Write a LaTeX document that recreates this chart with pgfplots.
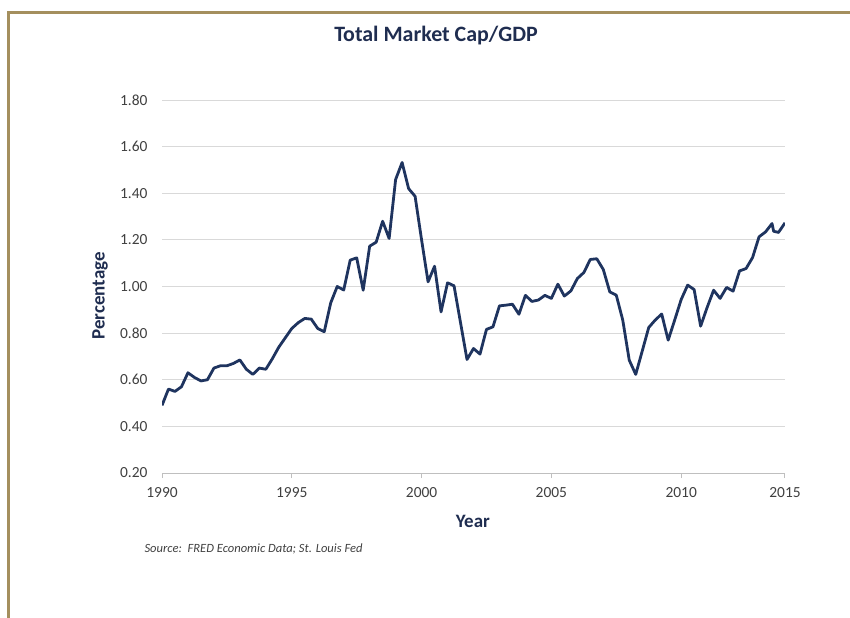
\documentclass[border=0pt]{standalone}
\usepackage{pgfplots}
\pgfplotsset{compat=1.18}
\usepackage{fontspec}
\setmainfont{Carlito}
\definecolor{navy}{RGB}{31,45,80}
\definecolor{linec}{RGB}{31,52,95}
\definecolor{gold}{RGB}{164,143,94}
\definecolor{gridc}{RGB}{217,217,217}
\definecolor{axc}{RGB}{191,191,191}
\definecolor{tickc}{RGB}{64,64,64}
\begin{document}
\begin{tikzpicture}
\path[use as bounding box] (0,0) rectangle (850bp,-618bp);
\draw[gold, line width=3bp] (8bp,-618bp) -- (8bp,-12bp) -- (851bp,-12bp);
\node[font=\bfseries\fontsize{22}{26}\selectfont, text=navy] at (436bp,-36bp) {Total Market Cap/GDP};
\node[font=\itshape\fontsize{12.6}{15}\selectfont, text=tickc, anchor=west] at (141bp,-549bp) {Source:\ \ FRED Economic Data; St. Louis Fed};
\begin{axis}[
  at={(162bp,-473bp)}, anchor=south west,
  scale only axis, width=623bp, height=373bp,
  xmin=0, xmax=96, ymin=0.2, ymax=1.8,
  xtick={0,20,40,60,80,96},
  xticklabels={1990,1995,2000,2005,2010,2015},
  ytick={0.2,0.4,0.6,0.8,1.0,1.2,1.4,1.6,1.8},
  yticklabel style={/pgf/number format/fixed, /pgf/number format/fixed zerofill, /pgf/number format/precision=2, xshift=-11bp},
  /pgf/number format/assume math mode=true,
  ymajorgrids, grid style={gridc, line width=1bp},
  axis x line*=bottom, axis y line*=left,
  y axis line style={draw=none},
  x axis line style={axc, line width=1bp},
  xtick align=outside, major tick length=5bp,
  ytick style={draw=none}, xtick style={axc, line width=1bp},
  tick label style={font=\fontsize{15.5}{18}\selectfont, text=tickc},
  xticklabel style={yshift=-6bp},
  ylabel={Percentage}, xlabel={Year},
  label style={font=\bfseries\fontsize{19}{22}\selectfont, text=navy},
  ylabel style={at={(axis description cs:-0.0995,0.475)}, anchor=center, rotate=0},
  xlabel style={at={(axis description cs:0.499,-0.131)}, anchor=center},
]
\addplot[linec, line width=2.8bp, line join=round, mark=none] coordinates {
(0,0.49) (1,0.56) (2,0.55) (3,0.57) (4,0.63) (5,0.61) (6,0.595) (7,0.60)
(8,0.65) (9,0.66) (10,0.66) (11,0.67) (12,0.685) (13,0.645) (14,0.623) (15,0.65)
(16,0.645) (17,0.69) (18,0.74) (19,0.78) (20,0.82) (21,0.845) (22,0.863) (23,0.86)
(24,0.82) (25,0.806) (26,0.93) (27,1.00) (28,0.985) (29,1.113) (30,1.123) (31,0.984)
(32,1.173) (33,1.19) (34,1.28) (35,1.206) (36,1.459) (37,1.532) (38,1.42) (39,1.387)
(40,1.20) (41,1.02) (42,1.087) (43,0.891) (44,1.016) (45,1.003) (46,0.845) (47,0.687)
(48,0.734) (49,0.71) (50,0.816) (51,0.827) (52,0.917) (53,0.92) (54,0.924) (55,0.881)
(56,0.962) (57,0.936) (58,0.942) (59,0.962) (60,0.949) (61,1.01) (62,0.959) (63,0.981)
(64,1.034) (65,1.06) (66,1.116) (67,1.119) (68,1.073) (69,0.977) (70,0.963) (71,0.856)
(72,0.684) (73,0.623) (74,0.723) (75,0.824) (76,0.856) (77,0.882) (78,0.77) (79,0.856)
(80,0.944) (81,1.006) (82,0.987) (83,0.83) (84,0.91) (85,0.984) (86,0.949) (87,0.996)
(88,0.98) (89,1.067) (90,1.077) (91,1.124) (92,1.213) (93,1.234) (94,1.27) (94.25,1.237)
(95,1.232) (96,1.273)
};
\end{axis}
\end{tikzpicture}
\end{document}
